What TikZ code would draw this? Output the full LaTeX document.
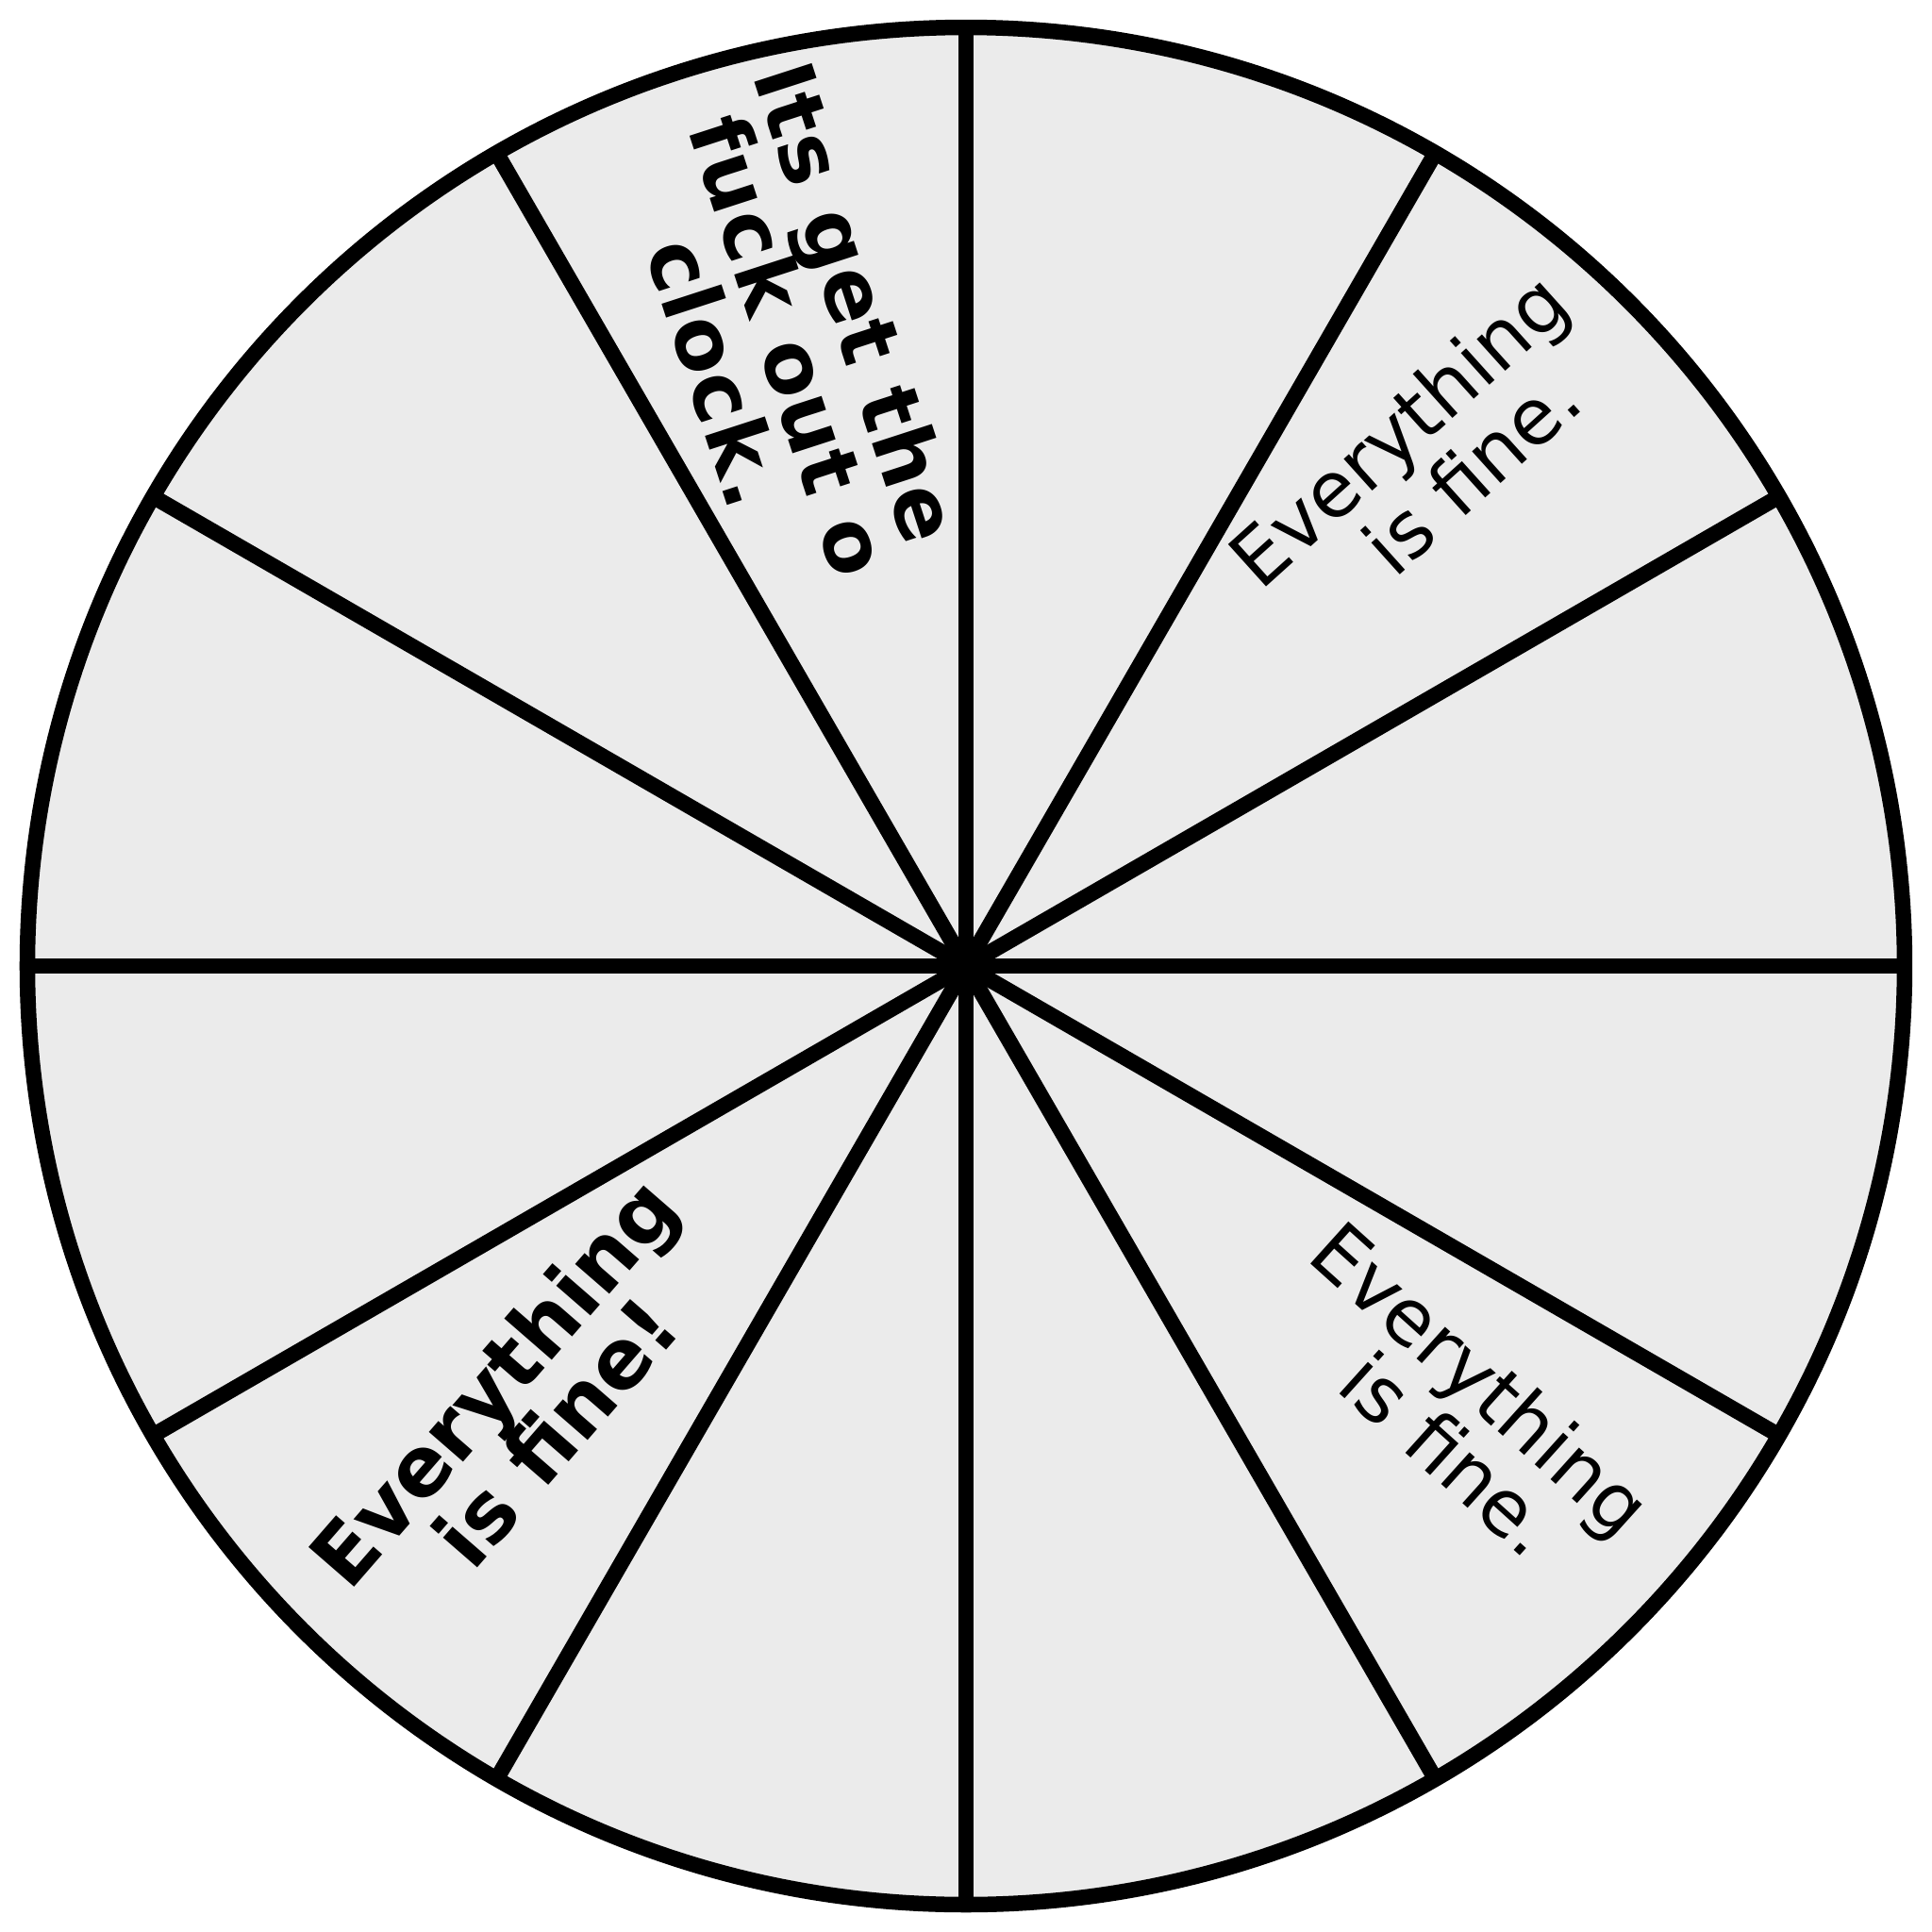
\documentclass[tikz,border=0pt]{standalone}
\usepackage{fontspec}
\setmainfont{DejaVu Sans}
\newfontfamily\clockfont{DejaVu Sans}[LetterSpace=1.5]
\definecolor{wheelfill}{RGB}{235,235,235}
\tikzset{
  wheelline/.style={line width=0.165cm, black},
  plainline/.style={anchor=base, inner sep=0pt, font=\fontsize{23.5}{27}\selectfont},
  boldline/.style={anchor=base, inner sep=0pt, font=\bfseries\fontsize{25}{29}\selectfont},
  clockline/.style={anchor=base, inner sep=0pt, rotate=-72, font=\clockfont\bfseries\fontsize{25}{29}\selectfont}
}
\begin{document}
\begin{tikzpicture}
\useasboundingbox (-10.24,-10.24) rectangle (10.24,10.24);
\fill[white] (-10.24,-10.24) rectangle (10.24,10.24);
\node[circle, wheelline, draw, fill=wheelfill, minimum size=19.9cm, inner sep=0pt, outer sep=0pt] (wheel) at (0,0) {};
\foreach \a in {0,30,...,150} {
  \pgfmathtruncatemacro{\b}{\a+180}
  \draw[wheelline] (wheel.\a) -- (wheel.\b);
}
% top sector
\node[clockline] (clockA) at (-1.451,6.940) {Its get the};
\node[clockline] (clockB) at (-2.173,6.479) {fuck out o};
\node[clockline] (clockC) at (-2.953,6.194) {clock.};
% upper right
\node[plainline, rotate=42] (fineA1) at (4.784,5.463) {Everything};
\node[plainline, rotate=42] (fineA2) at (5.562,5.014) {is fine.};
% lower right
\node[plainline, rotate=-42] (fineB1) at (5.258,-4.597) {Everything};
\node[plainline, rotate=-42] (fineB2) at (4.926,-5.400) {is fine.};
% lower left
\node[boldline, rotate=49] (fineC1) at (-4.768,-4.616) {Everything};
\node[boldline, rotate=49] (fineC2) at (-4.105,-5.146) {is fine!};
\end{tikzpicture}
\end{document}
